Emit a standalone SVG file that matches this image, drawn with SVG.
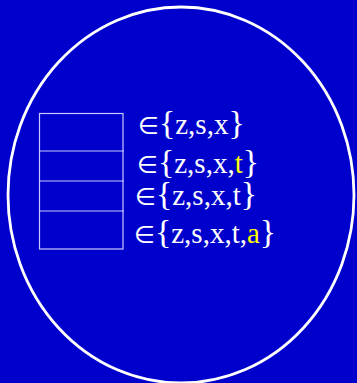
<svg xmlns="http://www.w3.org/2000/svg" width="357" height="383" viewBox="0 0 357 383">
<style>
.t{font-family:"Liberation Serif","DejaVu Serif",serif;font-size:29px;fill:#ffffff}
.b{font-size:34px}
.e{font-family:"DejaVu Sans","Liberation Serif",serif;font-size:24px}
.y{fill:#ffff00}
.ln{stroke:#c8c8ff;stroke-width:1.2;fill:none}
</style>
<rect width="357" height="383" fill="#0000cc"/>
<g id="circle"><ellipse cx="181" cy="195" rx="173" ry="188" fill="none" stroke="#ffffff" stroke-width="2.8"/></g>
<g id="stack">
<rect class="ln" x="39.5" y="113.5" width="83.5" height="135.5"/>
<line class="ln" x1="39.5" y1="151" x2="124" y2="151"/>
<line class="ln" x1="39.5" y1="181" x2="124" y2="181"/>
<line class="ln" x1="39.5" y1="211" x2="124" y2="211"/>
</g>
<g id="labels">
<text class="t" x="138" y="134"><tspan class="e">∈</tspan><tspan class="b">{</tspan>z,s,x<tspan class="b">}</tspan></text>
<text class="t" x="137" y="173"><tspan class="e">∈</tspan><tspan class="b">{</tspan>z,s,x,<tspan class="y">t</tspan><tspan class="b">}</tspan></text>
<text class="t" x="135" y="205"><tspan class="e">∈</tspan><tspan class="b">{</tspan>z,s,x,t<tspan class="b">}</tspan></text>
<text class="t" x="134" y="243"><tspan class="e">∈</tspan><tspan class="b">{</tspan>z,s,x,t,<tspan class="y">a</tspan><tspan class="b">}</tspan></text>
</g>
</svg>
